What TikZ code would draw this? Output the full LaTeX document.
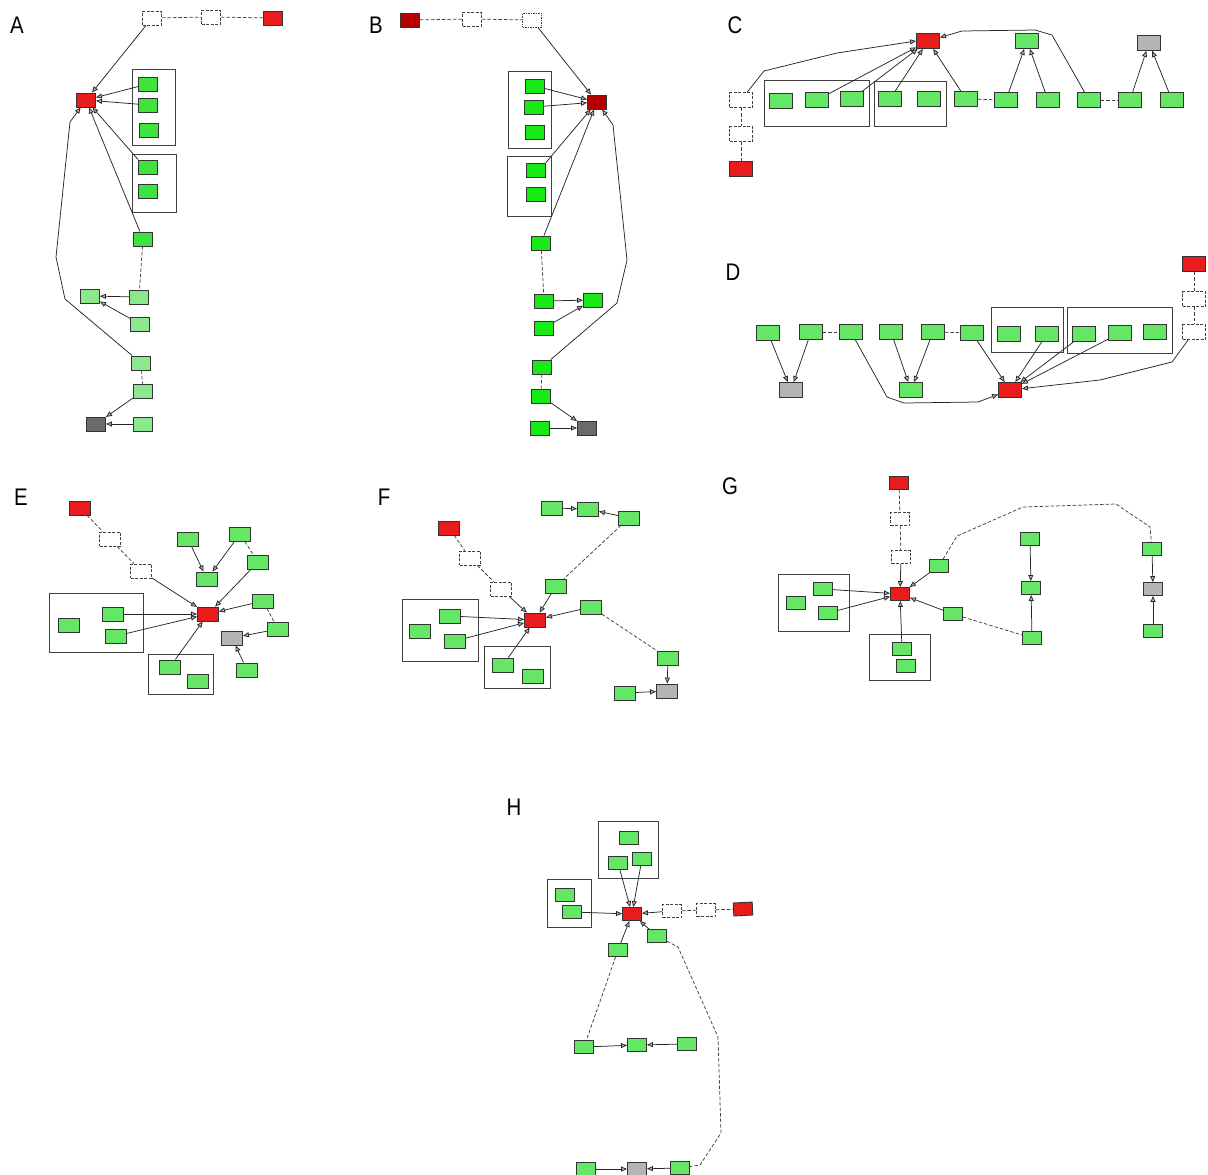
\documentclass[tikz,border=0pt]{standalone}
\usepackage{fontspec}
\setmainfont{Liberation Sans}
\newfontfamily\lblfont[FakeStretch=0.85]{Liberation Sans}
\usetikzlibrary{arrows.meta}
\definecolor{cRed}{HTML}{E81C1C}
\definecolor{cDR}{HTML}{B40000}
\definecolor{cGa}{HTML}{3FE33F}
\definecolor{cLa}{HTML}{8CE88C}
\definecolor{cGb}{HTML}{18EA18}
\definecolor{cG}{HTML}{66E666}
\definecolor{cGy}{HTML}{B4B4B4}
\definecolor{cDk}{HTML}{6A6A6A}
\tikzset{
  bx/.style={draw=black!80, line width=0.9pt, minimum width=19pt, minimum height=14pt, inner sep=0pt},
  bxc/.style={bx, minimum width=23pt, minimum height=15pt},
  bxe/.style={bx, minimum width=21pt, minimum height=14pt},
  bxg/.style={bx, minimum width=19pt, minimum height=13pt},
  dsh/.style={dash pattern=on 3pt off 1.5pt, fill=white, draw=black!75},
  frame/.style={draw=black!75, line width=0.9pt},
  arr/.style={draw=black!85, line width=0.75pt, -{Triangle[length=6pt,width=5pt,fill=black!30]}},
  lnk/.style={draw=black!75, line width=0.75pt, dash pattern=on 3.5pt off 2pt},
  lbl/.style={font=\lblfont\fontsize{24}{24}\selectfont, inner sep=0pt}
}
\begin{document}
\begin{tikzpicture}[x=1pt,y=-1pt]
\useasboundingbox (0,0) rectangle (1208,1175);
% labels
\node[lbl] (lA) at (17,25) {A};
\node[lbl] (lB) at (376,25) {B};
\node[lbl] (lC) at (735,25) {C};
\node[lbl] (lD) at (733,272) {D};
\node[lbl] (lE) at (21,497) {E};
\node[lbl] (lF) at (384,497) {F};
\node[lbl] (lG) at (730,486) {G};
\node[lbl] (lH) at (514,807) {H};

% ================= A
\draw[frame] (132,69) rectangle (175,145);
\draw[frame] (132,154) rectangle (176,212);
\node[bx,dsh] (a1) at (152,18) {};
\node[bx,dsh] (a2) at (211,17) {};
\node[bx,fill=cRed] (a3) at (273,18) {};
\node[bx,fill=cRed] (am) at (86,100) {};
\node[bx,fill=cGa] (ag1) at (148,84) {};
\node[bx,fill=cGa] (ag2) at (148,105) {};
\node[bx,fill=cGa] (ag3) at (149,130) {};
\node[bx,fill=cGa] (ag4) at (148,167) {};
\node[bx,fill=cGa] (ag5) at (148,191) {};
\node[bx,fill=cGa] (ag6) at (143,239) {};
\node[bx,fill=cLa] (al7) at (139,297) {};
\node[bx,fill=cLa] (al8) at (90,296) {};
\node[bx,fill=cLa] (al9) at (140,324) {};
\node[bx,fill=cLa] (al10) at (141,363) {};
\node[bx,fill=cLa] (al11) at (143,391) {};
\node[bx,fill=cDk] (ak12) at (96,424) {};
\node[bx,fill=cLa] (al13) at (143,424) {};
\draw[lnk] (a1) -- (a2);
\draw[lnk] (a2) -- (a3);
\draw[arr] (a1) -- (am);
\draw[arr] (ag1) -- (am);
\draw[arr] (ag2) -- (am);
\draw[arr] (ag4.north west) -- (am);
\draw[arr] (ag6) -- (am);
\draw[lnk] (ag6) -- (al7);
\draw[arr] (al7) -- (al8);
\draw[arr] (al9) -- (al8);
\draw[arr] (al10) -- (65,299) -- (56,257) -- (70,122) -- (am);
\draw[lnk] (al10) -- (al11);
\draw[arr] (al11) -- (ak12);
\draw[arr] (al13) -- (ak12);

% ================= B
\draw[frame] (508,71) rectangle (551,148);
\draw[frame] (507,156) rectangle (551,216);
\node[bx,fill=cDR] (bd0) at (410,20) {};
\node[bx,dsh] (bd1) at (472,19) {};
\node[bx,dsh,dash pattern=on 1.5pt off 1pt] (bd2) at (532,20) {};
\node[bx,fill=cDR] (bm) at (597,102) {};
\node[bx,fill=cGb] (b1) at (535,86) {};
\node[bx,fill=cGb] (b2) at (534,107) {};
\node[bx,fill=cGb] (b3) at (535,132) {};
\node[bx,fill=cGb] (b4) at (536,170) {};
\node[bx,fill=cGb] (b5) at (536,194) {};
\node[bx,fill=cGb] (b6) at (541,243) {};
\node[bx,fill=cGb] (b7) at (544,301) {};
\node[bx,fill=cGb] (b8) at (593,300) {};
\node[bx,fill=cGb] (b9) at (544,328) {};
\node[bx,fill=cGb] (b10) at (542,367) {};
\node[bx,fill=cGb] (b11) at (541,396) {};
\node[bx,fill=cDk] (bk12) at (587,428) {};
\node[bx,fill=cGb] (b13) at (540,428) {};
\draw[lnk] (bd0) -- (bd1);
\draw[lnk] (bd1) -- (bd2);
\draw[arr] (bd2) -- (bm);
\draw[arr] (b1) -- (bm);
\draw[arr] (b2) -- (bm);
\draw[arr] (b4.north east) -- (bm);
\draw[arr] (b6) -- (bm);
\draw[lnk] (b6) -- (b7);
\draw[arr] (b7) -- (b8);
\draw[arr] (b9) -- (b8);
\draw[arr] (b10) -- (617,303) -- (627,260) -- (613,125) -- (bm);
\draw[lnk] (b10) -- (b11);
\draw[arr] (b11) -- (bk12);
\draw[arr] (b13) -- (bk12);

% ================= C
\draw[frame] (764,80) rectangle (869,126);
\draw[frame] (874,81) rectangle (946,126);
\node[bxc,fill=cRed] (cm) at (928,41) {};
\node[bxc,dsh] (c1) at (741,100) {};
\node[bxc,dsh] (c2) at (741,134) {};
\node[bxc,fill=cRed] (c3) at (741,169) {};
\node[bxc,fill=cG] (c4) at (781,101) {};
\node[bxc,fill=cG] (c5) at (817,100) {};
\node[bxc,fill=cG] (c6) at (852,99) {};
\node[bxc,fill=cG] (c7) at (890,99) {};
\node[bxc,fill=cG] (c8) at (929,99) {};
\node[bxc,fill=cG] (c9) at (966,99) {};
\node[bxc,fill=cG] (c10) at (1006,100) {};
\node[bxc,fill=cG] (c11) at (1048,100) {};
\node[bxc,fill=cG] (c12) at (1089,100) {};
\node[bxc,fill=cG] (c13) at (1130,100) {};
\node[bxc,fill=cG] (c14) at (1172,100) {};
\node[bxc,fill=cG] (c15) at (1027,41) {};
\node[bxc,fill=cGy] (c16) at (1149,43) {};
\draw[arr] (c1) -- (764,71) -- (837,53) -- (cm.west);
\draw[lnk] (c1) -- (c2);
\draw[lnk] (c2) -- (c3);
\draw[arr] (c5) -- (cm);
\draw[arr] (c6) -- (cm);
\draw[arr] (c7) -- (cm);
\draw[arr] (c9) -- (cm);
\draw[lnk] (c9) -- (c10);
\draw[arr] (c10) -- (c15);
\draw[arr] (c11) -- (c15);
\draw[arr] (c12) -- (1052,35) -- (1035,30) -- (962,31) -- (cm);
\draw[lnk] (c12) -- (c13);
\draw[arr] (c13) -- (c16);
\draw[arr] (c14) -- (c16);

% ================= D
\draw[frame] (991,307) rectangle (1063,352);
\draw[frame] (1067,307) rectangle (1172,353);
\node[bxc,fill=cRed] (d1) at (1194,264) {};
\node[bxc,dsh] (d2) at (1194,299) {};
\node[bxc,dsh] (d3) at (1194,332) {};
\node[bxc,fill=cG] (d4) at (768,333) {};
\node[bxc,fill=cG] (d5) at (811,332) {};
\node[bxc,fill=cG] (d6) at (851,332) {};
\node[bxc,fill=cG] (d7) at (891,332) {};
\node[bxc,fill=cG] (d8) at (933,332) {};
\node[bxc,fill=cG] (d9) at (972,333) {};
\node[bxc,fill=cG] (d10) at (1009,334) {};
\node[bxc,fill=cG] (d11) at (1047,334) {};
\node[bxc,fill=cG] (d12) at (1084,334) {};
\node[bxc,fill=cG] (d13) at (1120,333) {};
\node[bxc,fill=cG] (d14) at (1155,332) {};
\node[bxc,fill=cGy] (d15) at (791,390) {};
\node[bxc,fill=cG] (d16) at (911,390) {};
\node[bxc,fill=cRed] (d17) at (1010,390) {};
\draw[lnk] (d1) -- (d2);
\draw[lnk] (d2) -- (d3);
\draw[lnk] (d5) -- (d6);
\draw[lnk] (d8) -- (d9);
\draw[arr] (d4) -- (d15);
\draw[arr] (d5) -- (d15);
\draw[arr] (d7) -- (d16);
\draw[arr] (d8) -- (d16);
\draw[arr] (d6) -- (887,397) -- (904,403) -- (978,402) -- (d17);
\draw[arr] (d9) -- (d17);
\draw[arr] (d11) -- (d17);
\draw[arr] (d12) -- (d17);
\draw[arr] (d13) -- (d17);
\draw[arr] (d3) -- (1172,362) -- (1100,380) -- (d17);

% ================= E
\draw[frame] (49,593) rectangle (143,652);
\draw[frame] (148,654) rectangle (213,694);
\node[bxe,fill=cRed] (e1) at (80,508) {};
\node[bxe,dsh] (e2) at (110,539) {};
\node[bxe,dsh] (e3) at (141,571) {};
\node[bxe,fill=cRed] (em) at (208,614) {};
\node[bxe,fill=cG] (e4) at (69,625) {};
\node[bxe,fill=cG] (e5) at (113,614) {};
\node[bxe,fill=cG] (e6) at (116,636) {};
\node[bxe,fill=cG] (e7) at (170,667) {};
\node[bxe,fill=cG] (e8) at (198,681) {};
\node[bxe,fill=cG] (e9) at (188,539) {};
\node[bxe,fill=cG] (e10) at (240,534) {};
\node[bxe,fill=cG] (e11) at (258,562) {};
\node[bxe,fill=cG] (e12) at (207,579) {};
\node[bxe,fill=cG] (e13) at (263,601) {};
\node[bxe,fill=cG] (e14) at (278,629) {};
\node[bxe,fill=cGy] (e15) at (232,638) {};
\node[bxe,fill=cG] (e16) at (247,670) {};
\draw[lnk] (e1) -- (e2);
\draw[lnk] (e2) -- (e3);
\draw[arr] (e3) -- (em);
\draw[arr] (e5) -- (em);
\draw[arr] (e6) -- (em);
\draw[arr] (e7) -- (em);
\draw[arr] (e9) -- (e12);
\draw[arr] (e10) -- (e12);
\draw[lnk] (e10) -- (e11);
\draw[arr] (e11) -- (em);
\draw[arr] (e13) -- (em);
\draw[lnk] (e13) -- (e14);
\draw[arr] (e14) -- (e15);
\draw[arr] (e16) -- (e15);

% ================= F
\draw[frame] (402,599) rectangle (478,661);
\draw[frame] (484,646) rectangle (550,688);
\node[bxe,fill=cRed] (f1) at (449,528) {};
\node[bxe,dsh] (f2) at (470,558) {};
\node[bxe,dsh] (f3) at (501,589) {};
\node[bxe,fill=cRed] (fm) at (535,620) {};
\node[bxe,fill=cG] (f4) at (420,631) {};
\node[bxe,fill=cG] (f5) at (450,616) {};
\node[bxe,fill=cG] (f6) at (455,641) {};
\node[bxe,fill=cG] (f7) at (503,665) {};
\node[bxe,fill=cG] (f8) at (533,676) {};
\node[bxe,fill=cG] (f9) at (552,508) {};
\node[bxe,fill=cG] (f10) at (588,509) {};
\node[bxe,fill=cG] (f11) at (629,518) {};
\node[bxe,fill=cG] (f12) at (556,586) {};
\node[bxe,fill=cG] (f13) at (591,607) {};
\node[bxe,fill=cG] (f14) at (668,658) {};
\node[bxe,fill=cGy] (f15) at (667,691) {};
\node[bxe,fill=cG] (f16) at (625,693) {};
\draw[lnk] (f1) -- (f2);
\draw[lnk] (f2) -- (f3);
\draw[arr] (f3) -- (fm);
\draw[arr] (f5) -- (fm);
\draw[arr] (f6) -- (fm);
\draw[arr] (f7) -- (fm);
\draw[arr] (f9) -- (f10);
\draw[arr] (f11) -- (f10);
\draw[lnk] (f11) -- (f12);
\draw[arr] (f12) -- (fm);
\draw[arr] (f13) -- (fm);
\draw[lnk] (f13) -- (f14);
\draw[arr] (f14) -- (f15);
\draw[arr] (f16) -- (f15);

% ================= G
\draw[frame] (778,574) rectangle (849,631);
\draw[frame] (869,634) rectangle (930,680);
\node[bxg,fill=cRed] (g1) at (899,483) {};
\node[bxg,dsh] (g2) at (900,519) {};
\node[bxg,dsh] (g3) at (901,557) {};
\node[bxg,fill=cRed] (gm) at (900,594) {};
\node[bxg,fill=cG] (g4) at (796,603) {};
\node[bxg,fill=cG] (g5) at (823,589) {};
\node[bxg,fill=cG] (g6) at (828,613) {};
\node[bxg,fill=cG] (g7) at (902,649) {};
\node[bxg,fill=cG] (g8) at (906,666) {};
\node[bxg,fill=cG] (g9) at (939,566) {};
\node[bxg,fill=cG] (g10) at (953,614) {};
\node[bxg,fill=cG] (g11) at (1030,539) {};
\node[bxg,fill=cG] (g12) at (1031,588) {};
\node[bxg,fill=cG] (g13) at (1032,638) {};
\node[bxg,fill=cG] (g14) at (1152,549) {};
\node[bxg,fill=cGy] (g15) at (1153,589) {};
\node[bxg,fill=cG] (g16) at (1153,631) {};
\draw[lnk] (g1) -- (g2);
\draw[lnk] (g2) -- (g3);
\draw[arr] (g3) -- (gm);
\draw[arr] (g5) -- (gm);
\draw[arr] (g6) -- (gm);
\draw[arr] (g7) -- (gm);
\draw[arr] (g9) -- (gm);
\draw[arr] (g10) -- (gm);
\draw[lnk] (g9) -- (957,536) -- (1023,507) -- (1116,504) -- (1150,527) -- (g14);
\draw[lnk] (g10) -- (g13);
\draw[arr] (g11) -- (g12);
\draw[arr] (g13) -- (g12);
\draw[arr] (g14) -- (g15);
\draw[arr] (g16) -- (g15);

% ================= H
\draw[frame] (598,821) rectangle (658,878);
\draw[frame] (547,879) rectangle (591,927);
\node[bxg,fill=cRed] (hm) at (632,914) {};
\node[bxg,dsh] (h1) at (672,911) {};
\node[bxg,dsh] (h2) at (706,910) {};
\node[bxg,fill=cRed,rotate=3] (h3) at (743,909) {};
\node[bxg,fill=cG] (h4) at (629,838) {};
\node[bxg,fill=cG] (h5) at (618,863) {};
\node[bxg,fill=cG] (h6) at (642,859) {};
\node[bxg,fill=cG] (h7) at (565,895) {};
\node[bxg,fill=cG] (h8) at (572,912) {};
\node[bxg,fill=cG] (h9) at (618,950) {};
\node[bxg,fill=cG] (h10) at (657,936) {};
\node[bxg,fill=cG] (h11) at (584,1047) {};
\node[bxg,fill=cG] (h12) at (637,1045) {};
\node[bxg,fill=cG] (h13) at (687,1044) {};
\node[bxg,fill=cG] (h14) at (586,1169) {};
\node[bxg,fill=cGy] (h15) at (637,1169) {};
\node[bxg,fill=cG] (h16) at (680,1168) {};
\draw[arr] (h5) -- (hm);
\draw[arr] (h6) -- (hm);
\draw[arr] (h8) -- (hm);
\draw[arr] (h1) -- (hm);
\draw[lnk] (h1) -- (h2);
\draw[lnk] (h2) -- (h3);
\draw[arr] (h9) -- (hm);
\draw[arr] (h10) -- (hm);
\draw[lnk] (h9) -- (h11);
\draw[arr] (h11) -- (h12);
\draw[arr] (h13) -- (h12);
\draw[lnk] (h10) -- (678,947) -- (718,1037) -- (721,1133) -- (700,1165) -- (h16);
\draw[arr] (h14) -- (h15);
\draw[arr] (h16) -- (h15);
\end{tikzpicture}
\end{document}
